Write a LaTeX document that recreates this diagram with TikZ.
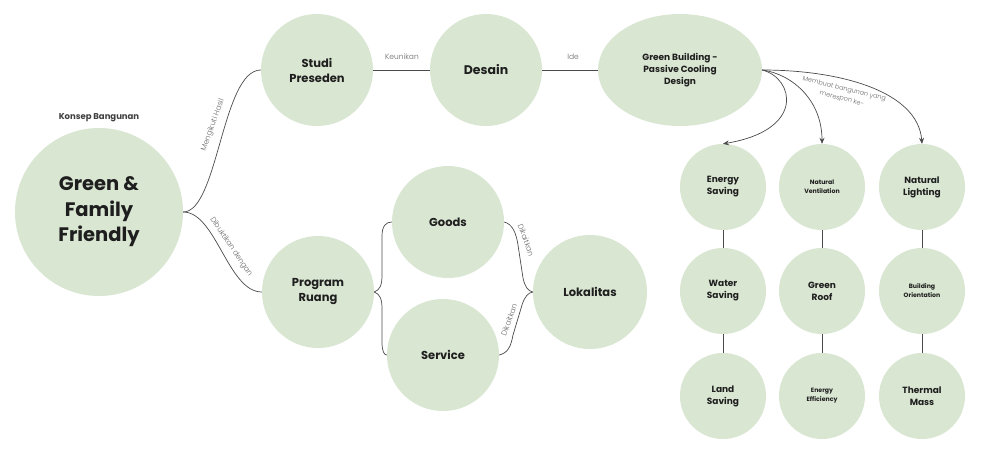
\documentclass[tikz,border=0pt]{standalone}
\usepackage{fontspec}
\setmainfont{Poppins}
\newfontfamily\lightfont{Poppins}[UprightFont={* Light}]
\usetikzlibrary{shapes.geometric,arrows.meta}
\definecolor{sage}{HTML}{D9E6D2}
\definecolor{ink}{HTML}{1E1E1E}
\definecolor{wire}{HTML}{4A4A4A}
\definecolor{lbl}{HTML}{6A6A6A}
\begin{document}
\begin{tikzpicture}[x=1pt,y=-1pt,
  bub/.style={circle,fill=sage,inner sep=0pt,align=center,text=ink},
  big/.style={bub,minimum size=168pt,font=\fontsize{19.5}{25.5}\selectfont\bfseries},
  mid/.style={bub,minimum size=112pt,font=\fontsize{11.5}{15}\selectfont\bfseries},
  sml/.style={bub,minimum size=86pt,font=\fontsize{9}{12}\selectfont\bfseries},
  tiny/.style={bub,minimum size=86pt,font=\fontsize{6.2}{9}\selectfont\bfseries},
  wirestyle/.style={draw=wire,line width=0.7pt},
  edgelbl/.style={text=lbl,font=\lightfont\fontsize{7.5}{9}\selectfont,inner sep=0pt},
  arr/.style={wirestyle,-{Stealth[length=6pt,width=5pt]}}]
\useasboundingbox[fill=white] (0,0) rectangle (981,450);

% main nodes
\node[big] (gff) at (99,212) {Green \&\\Family\\Friendly};
\node[font=\fontsize{8.5}{10}\selectfont\bfseries,text=ink!85] (konsep) at (99,118) {Konsep Bangunan};
\node[mid] (studi) at (317,70) {Studi\\Preseden};
\node[mid] (desain) at (486,70) {\fontsize{12.5}{15}\selectfont Desain};
\node[ellipse,fill=sage,inner sep=0pt,minimum width=164pt,minimum height=112pt,align=center,text=ink,
      font=\fontsize{9}{12}\selectfont\bfseries] (gb) at (680,70) {Green Building -\\Passive Cooling\\Design};
\node[mid] (prog) at (318,292) {Program\\Ruang};
\node[mid] (goods) at (448,222) {Goods};
\node[mid] (serv) at (443,355) {Service};
\node[mid,minimum size=114pt] (lok) at (590,292) {Lokalitas};

% grid
\node[sml] (es) at (723,187) {Energy\\Saving};
\node[tiny] (nv) at (822,187) {Natural\\Ventilation};
\node[sml] (nl) at (922,187) {Natural\\Lighting};
\node[sml] (ws) at (723,291) {Water\\Saving};
\node[sml] (gr) at (822,291) {Green\\Roof};
\node[tiny] (bo) at (922,291) {Building\\Orientation};
\node[sml] (ls) at (723,396) {Land\\Saving};
\node[tiny] (ee) at (822,396) {Energy\\Efficiency};
\node[sml] (tm) at (922,396) {Thermal\\Mass};

\draw[wirestyle] (es) -- (ws); \draw[wirestyle] (ws) -- (ls);
\draw[wirestyle] (nv) -- (gr); \draw[wirestyle] (gr) -- (ee);
\draw[wirestyle] (nl) -- (bo); \draw[wirestyle] (bo) -- (tm);

% top row connectors
\draw[wirestyle] (studi) -- (desain);
\node[edgelbl] (lk) at (402,57) {Keunikan};
\draw[wirestyle] (desain) -- (gb);
\node[edgelbl] (li) at (573,57) {Ide};

% from main circle
\draw[wirestyle] (gff.east) .. controls (218,212) and (222,70) .. (studi.west);
\node[edgelbl,rotate=70] (lm) at (213,125) {Mengikuti Hasil};
\draw[wirestyle] (gff.east) .. controls (216,212) and (228,292) .. (prog.west);
\node[edgelbl,rotate=-56] (ld) at (231,247) {Dibuktikan dengan};

% left brace
\draw[wirestyle] (prog.east) .. controls (380,290) and (382,285) .. (382,275)
   -- (382,236) .. controls (382,226) and (386,222) .. (goods.west);
\draw[wirestyle] (prog.east) .. controls (380,294) and (382,299) .. (382,309)
   -- (382,342) .. controls (382,351) and (384,355) .. (serv.west);

% right brace
\draw[wirestyle] (goods.east) .. controls (512,224) and (516,232) .. (518,245)
   -- (523,278) .. controls (525,287) and (528,291) .. (lok.west);
\draw[wirestyle] (serv.east) .. controls (508,353) and (511,346) .. (513,335)
   -- (522,305) .. controls (525,296) and (528,293) .. (lok.west);
\node[edgelbl,rotate=-70] (lg) at (526,240) {Dikaitkan};
\node[edgelbl,rotate=70] (lsv) at (509,320) {Dikaitkan};

% arrows from green building
\draw[arr] (gb.east) .. controls (794,78) and (806,130) .. (es.north);
\draw[arr] (gb.east) .. controls (792,74) and (822,100) .. (nv.north);
\draw[arr] (gb.east) .. controls (842,70) and (918,92) .. (nl.north);
\node[text=lbl,font=\lightfont\fontsize{6.5}{10}\selectfont,inner sep=0pt,align=center,rotate=-14] (lmb) at (843,94) {Membuat bangunan yang\\merespon ke-};
\end{tikzpicture}
\end{document}
